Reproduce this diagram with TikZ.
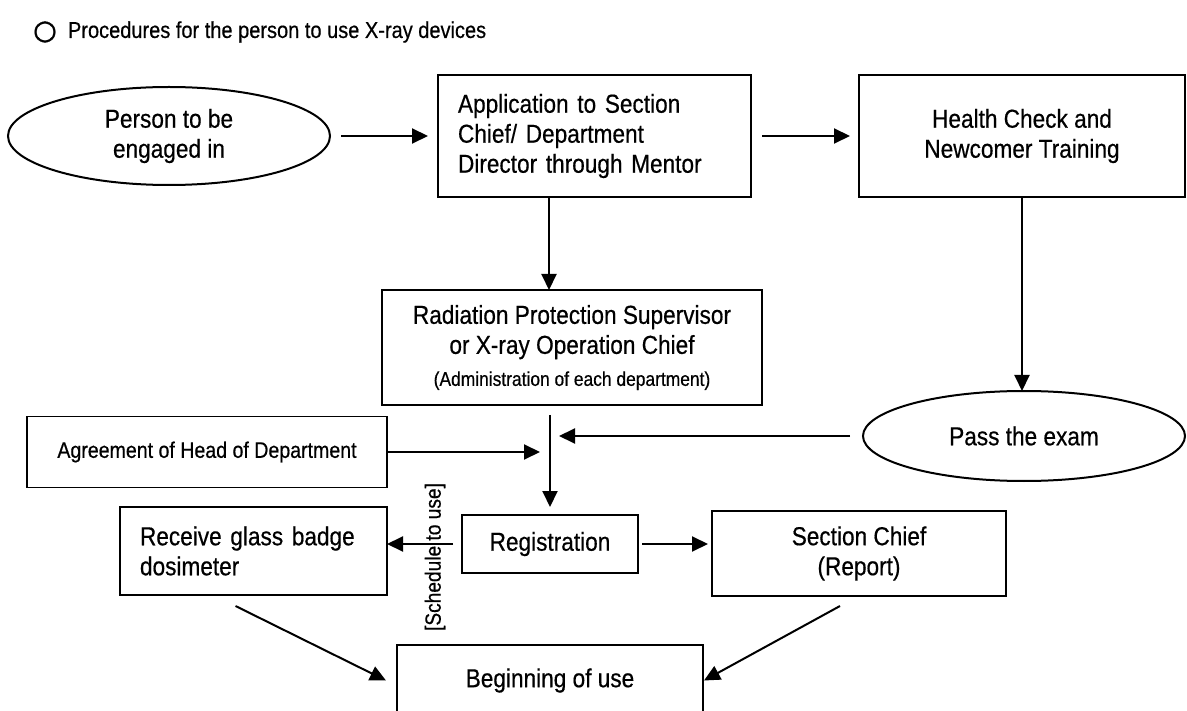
\documentclass[tikz,border=0pt]{standalone}
\usepackage{fontspec}
\setmainfont{Liberation Sans}[FakeStretch=0.87,FakeBold=0.5]
\newfontfamily\symf{DejaVu Sans}[FakeBold=1.5]
\usetikzlibrary{shapes.geometric,arrows.meta}
\begin{document}
\begin{tikzpicture}[x=1pt,y=-1pt,
  every node/.style={inner sep=0pt, outer sep=0pt},
  box/.style={draw, line width=1.2pt, rectangle, align=center, font=\fontsize{26}{30}\selectfont},
  oval/.style={draw, line width=2pt, ellipse, align=center, font=\fontsize{26}{30}\selectfont},
  arr/.style={line width=2pt, -{Triangle[length=16pt,width=15pt]}},
]
\useasboundingbox (0,0) rectangle (1187,711);

% title
\node (circ) at (45,32) {\symf\fontsize{27}{28}\selectfont ○};
\node[anchor=west, font=\fontsize{23}{26}\selectfont] (ttl) at (68,32) {Procedures for the person to use X-ray devices};

% nodes
\node[oval, minimum width=322, minimum height=98] (P) at (169,136) {Person to be\\engaged in};
\node[box, minimum width=313, minimum height=122, text width=273, align=left] (A) at (594.5,136) {Application to Section\\Chief/ Department\\Director through Mentor};
\node[box, minimum width=326, minimum height=122] (B) at (1022,136) {Health Check and\\Newcomer Training};
\node[box, minimum width=380, minimum height=115] (C) at (572,347.5) {Radiation Protection Supervisor\\or X-ray Operation Chief\\[2pt]{\fontsize{20}{24}\selectfont (Administration of each department)}};
\node[oval, minimum width=322, minimum height=90] (X) at (1024,436) {Pass the exam};
\node[box, minimum width=360, minimum height=71, font=\fontsize{22.5}{26}\selectfont] (D) at (207,452) {Agreement of Head of Department};
\node[box, minimum width=176, minimum height=58] (Reg) at (550,544) {Registration};
\node[box, minimum width=267, minimum height=88, text width=227, align=left] (R) at (253.5,551) {Receive glass badge\\dosimeter};
\node[box, minimum width=294, minimum height=85] (S) at (859,553.5) {Section Chief\\(Report)};
\node[box, minimum width=306, minimum height=71] (E) at (550,680.5) {Beginning of use};
\node[rotate=90, font=\fontsize{22}{24}\selectfont] (sch) at (435,557) {[Schedule to use]};

% helper coordinates
\coordinate (ac) at (549,0);
\coordinate (j1) at (559,436);
\coordinate (j2) at (540,452);

% connectors
\draw[arr] ([xshift=11]P.east) -- ([xshift=-10]A.west);
\draw[arr] ([xshift=11]A.east) -- ([xshift=-9]B.west);
\draw[arr] (A.south -| ac) -- (C.north -| ac);
\draw[arr] (B.south) -- (B.south |- X.north);
\draw[arr] ([yshift=-10]C.south -| Reg.north) -- ([yshift=8]Reg.north);
\draw[arr] ([xshift=-13]X.west) -- (j1);
\draw[arr] (D.east) -- (D.east -| j2);
\draw[arr] ([xshift=-9]Reg.west) -- (Reg.west -| R.east);
\draw[arr, shorten >=4pt] ([xshift=4]Reg.east) -- (Reg.east -| S.west);
\draw[arr] ([xshift=-18,yshift=-11]R.south) -- ([xshift=-11]E.west);
\draw[arr] ([xshift=-19,yshift=-10]S.south) -- ([xshift=1]E.east);
\end{tikzpicture}
\end{document}
